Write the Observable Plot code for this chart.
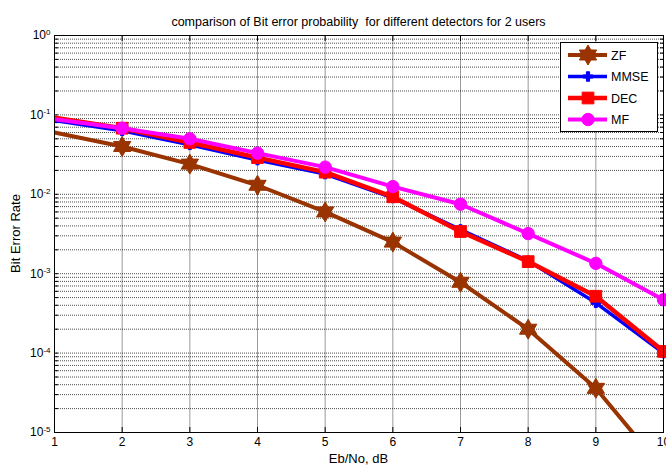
<!DOCTYPE html>
<html>
<head>
<meta charset="utf-8">
<script src="https://cdn.jsdelivr.net/npm/d3@7"></script>
<script src="https://cdn.jsdelivr.net/npm/@observablehq/plot@0.6"></script>
<style>
  html, body { margin: 0; padding: 0; background: #fff; }
  #chart svg { display: block; }
</style>
</head>
<body>
<div id="chart"></div>
<script>
// Eb/No (dB) and simulated bit error rate of each detector
const ebno    = [1, 2, 3, 4, 5, 6, 7, 8, 9, 10];
const berZF   = [0.060, 0.040, 0.024, 0.013, 0.0060, 0.0025, 7.8e-4, 2.0e-4, 3.6e-5, 3.4e-6];
const berMMSE = [0.085, 0.063, 0.042, 0.027, 0.018, 0.0090, 0.0036, 0.00145, 4.3e-4, 1.0e-4];
const berDEC  = [0.092, 0.068, 0.045, 0.029, 0.019, 0.0093, 0.0034, 0.00142, 5.2e-4, 1.05e-4];
const berMF   = [0.088, 0.068, 0.050, 0.033, 0.022, 0.0125, 0.0075, 0.0032, 0.00135, 4.7e-4];
const seriesNames = ["ZF", "MMSE", "DEC", "MF"];
const seriesValues = [berZF, berMMSE, berDEC, berMF];

// axis ticks and labels
const xTicks = [1, 2, 3, 4, 5, 6, 7, 8, 9, 10];
const yTicks = [1e-5, 1e-4, 1e-3, 1e-2, 1e-1, 1];
const yTickExponents = ["-5", "-4", "-3", "-2", "-1", "0"];
const titleText = "comparison of Bit error probability  for different detectors for 2 users";
const xLabel = "Eb/No, dB";
const yLabel = "Bit Error Rate";

// six-pointed star marker
const hexagram = {
  draw(context, size) {
    const r = Math.sqrt(size / Math.PI);
    const ri = r / Math.sqrt(3);
    for (let i = 0; i < 12; i++) {
      const a = -Math.PI / 2 + i * Math.PI / 6;
      const rr = i % 2 ? ri : r;
      const px = rr * Math.cos(a), py = rr * Math.sin(a);
      if (i === 0) context.moveTo(px, py); else context.lineTo(px, py);
    }
    context.closePath();
  }
};

const look = {
  ZF:   {color: "#993300", width: 4,   symbol: hexagram,         r: 10,  clip: true},
  MMSE: {color: "#0000ff", width: 3.5, symbol: d3.symbolCross,   r: 4,   clip: false},
  DEC:  {color: "#ff0000", width: 4.5, symbol: d3.symbolSquare,  r: 6.6, clip: false},
  MF:   {color: "#ff00ff", width: 4,   symbol: d3.symbolCircle,  r: 6.2, clip: false}
};

// long-format rows: one per (detector, Eb/No)
const rows = seriesNames.flatMap((name, s) =>
  ebno.map((x, i) => ({series: name, x, ber: seriesValues[s][i]})));

// log grid: 1..9 in every decade
const yGrid = yTicks.slice(0, -1)
  .flatMap(p => [1, 2, 3, 4, 5, 6, 7, 8, 9].map(k => k * p))
  .concat([1]);

// the curves enter at the left edge; markers start at the second Eb/No value
const seriesMarks = seriesNames.flatMap(name => {
  const st = look[name];
  const data = rows.filter(d => d.series === name);
  return [
    Plot.line(data, {x: "x", y: "ber", stroke: st.color, strokeWidth: st.width, clip: true}),
    Plot.dot(data.filter(d => d.x > ebno[0]), {x: "x", y: "ber", symbol: st.symbol, r: st.r,
                    fill: st.color, stroke: st.color, strokeWidth: 1, clip: st.clip})
  ];
});

const chart = Plot.plot({
  width: 666,
  height: 472,
  marginLeft: 54,
  marginRight: 3,
  marginTop: 35,
  marginBottom: 40,
  style: {fontFamily: "'Liberation Sans', Arial, sans-serif", fontSize: "12px", background: "#fff", color: "#000"},
  x: {domain: [1, 10]},
  y: {type: "log", domain: [1e-5, 1]},
  marks: [
    Plot.gridY(yGrid, {stroke: "#000", strokeOpacity: 0.7, strokeDasharray: "1,1"}),
    Plot.gridX(xTicks, {stroke: "#000", strokeOpacity: 0.4}),
    // inward tick marks on all four sides
    Plot.axisY(yGrid, {anchor: "left", tickSize: 4, dx: 4, tickFormat: () => "", label: null}),
    Plot.axisY(yGrid, {anchor: "right", tickSize: 4, dx: -4, tickFormat: () => "", label: null}),
    Plot.axisX(xTicks, {anchor: "bottom", tickSize: 5, dy: -5, tickFormat: () => "", label: null}),
    Plot.axisX(xTicks, {anchor: "top", tickSize: 5, dy: 5, tickFormat: () => "", label: null}),
    // tick labels
    Plot.axisX(xTicks, {anchor: "bottom", tickSize: 0, tickPadding: 5, tickFormat: d => String(d), label: null}),
    Plot.axisY(yTicks, {anchor: "left", tickSize: 0, tickPadding: 4,
                        tickFormat: d => yTickExponents[yTicks.indexOf(d)], label: null}),
    ...seriesMarks,
    Plot.frame({stroke: "#000"})
  ]
});

document.getElementById("chart").appendChild(chart);

const svg = d3.select(chart);
const xs = chart.scale("x");
const ys = chart.scale("y");

// the tick-only axes leave empty label nodes behind
svg.selectAll("text").filter(function () { return this.textContent === ""; }).remove();

// turn exponent labels into 10 with a superscript
svg.selectAll('g[aria-label="y-axis tick label"] text').each(function () {
  const t = d3.select(this);
  const exp = t.text();
  t.text(null);
  t.append("tspan").text("10");
  t.append("tspan").attr("dy", "-0.55em").attr("font-size", "8px").text(exp);
});

// title and axis labels
const plotLeft = xs.apply(1), plotRight = xs.apply(10);
const plotTop = ys.apply(1), plotBottom = ys.apply(1e-5);
const cx = (plotLeft + plotRight) / 2, cy = (plotTop + plotBottom) / 2;

svg.append("text")
  .attr("x", cx).attr("y", 26)
  .attr("text-anchor", "middle")
  .attr("font-size", "12.5px")
  .style("white-space", "pre")
  .text(titleText);

svg.append("text")
  .attr("x", cx).attr("y", 463)
  .attr("text-anchor", "middle")
  .attr("font-size", "13px")
  .text(xLabel);

svg.append("text")
  .attr("transform", `translate(20,${cy}) rotate(-90)`)
  .attr("text-anchor", "middle")
  .attr("font-size", "13px")
  .text(yLabel);

// legend
const legend = svg.append("g").attr("class", "legend").attr("text-anchor", "start");
legend.append("rect")
  .attr("x", 560.5).attr("y", 42.5).attr("width", 97).attr("height", 89)
  .attr("fill", "#fff").attr("stroke", "#000");
seriesNames.forEach((name, i) => {
  const st = look[name];
  const y = 55 + i * 21.5;
  legend.append("line")
    .attr("x1", 568).attr("x2", 607).attr("y1", y).attr("y2", y)
    .attr("stroke", st.color).attr("stroke-width", st.width);
  legend.append("path")
    .attr("transform", `translate(588,${y})`)
    .attr("d", d3.symbol(st.symbol, Math.PI * st.r * st.r)())
    .attr("fill", st.color).attr("stroke", st.color);
  legend.append("text")
    .attr("x", 611).attr("y", y + 4.5)
    .attr("text-anchor", "start")
    .attr("font-size", "12.5px")
    .text(name);
});
</script>
</body>
</html>
